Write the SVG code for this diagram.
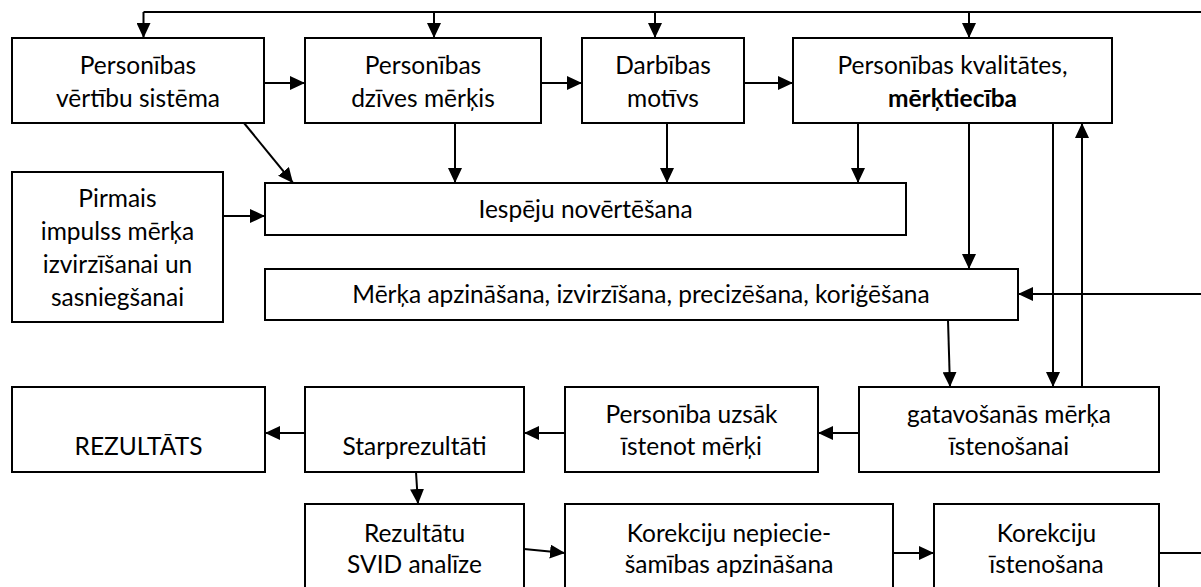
<svg xmlns="http://www.w3.org/2000/svg" width="1201" height="587" viewBox="0 0 1201 587">
<style>
.box{fill:#fff;stroke:#000;stroke-width:2}
text{font-family:Lato,"Open Sans",sans-serif;font-size:24.5px;fill:#000;text-anchor:middle}
.b{font-weight:bold}
.c{fill:none;stroke:#000;stroke-width:2}
</style>
<defs>
<marker id="ah" markerUnits="userSpaceOnUse" markerWidth="16" markerHeight="14" refX="15" refY="7" orient="auto">
<path d="M0,0 L15,7 L0,14 Z" fill="#000"/>
</marker>
</defs>
<g id="connectors">
<path class="c" d="M143.5,12 H1201"/>
<path class="c" d="M143.5,12 V38" marker-end="url(#ah)"/>
<path class="c" d="M434,12 V38" marker-end="url(#ah)"/>
<path class="c" d="M655,12 V38" marker-end="url(#ah)"/>
<path class="c" d="M969,12 V38" marker-end="url(#ah)"/>
<path class="c" d="M264,83 H305" marker-end="url(#ah)"/>
<path class="c" d="M541,83 H582" marker-end="url(#ah)"/>
<path class="c" d="M744,83 H793" marker-end="url(#ah)"/>
<path class="c" d="M244,123 L293,183" marker-end="url(#ah)"/>
<path class="c" d="M455,123 V183" marker-end="url(#ah)"/>
<path class="c" d="M667,123 V183" marker-end="url(#ah)"/>
<path class="c" d="M858,123 V183" marker-end="url(#ah)"/>
<path class="c" d="M223,216 H265" marker-end="url(#ah)"/>
<path class="c" d="M969,123 V269" marker-end="url(#ah)"/>
<path class="c" d="M1053,123 V387" marker-end="url(#ah)"/>
<path class="c" d="M1082,387 V123" marker-end="url(#ah)"/>
<path class="c" d="M1201,294 H1018" marker-end="url(#ah)"/>
<path class="c" d="M948,320 L950,387" marker-end="url(#ah)"/>
<path class="c" d="M859,433 H818" marker-end="url(#ah)"/>
<path class="c" d="M565,433 H524" marker-end="url(#ah)"/>
<path class="c" d="M305,433 H265" marker-end="url(#ah)"/>
<path class="c" d="M416,472 L418,504" marker-end="url(#ah)"/>
<path class="c" d="M524,549 L565,553" marker-end="url(#ah)"/>
<path class="c" d="M893,553 H934" marker-end="url(#ah)"/>
<path class="c" d="M1159,553 H1201"/>
</g>
<g id="n1"><rect class="box" x="12" y="38" width="252" height="85"/><text x="138" y="74">Personības</text><text x="138" y="107">vērtību sistēma</text></g>
<g id="n2"><rect class="box" x="305" y="38" width="236" height="85"/><text x="423" y="74">Personības</text><text x="423" y="107">dzīves mērķis</text></g>
<g id="n3"><rect class="box" x="582" y="38" width="162" height="85"/><text x="663" y="74">Darbības</text><text x="663" y="107">motīvs</text></g>
<g id="n4"><rect class="box" x="793" y="38" width="319" height="85"/><text x="952.5" y="74">Personības kvalitātes,</text><text class="b" x="952.5" y="107">mērķtiecība</text></g>
<g id="n5"><rect class="box" x="12" y="172" width="211" height="150"/><text x="117.5" y="207">Pirmais</text><text x="117.5" y="240">impulss mērķa</text><text x="117.5" y="273">izvirzīšanai un</text><text x="117.5" y="306">sasniegšanai</text></g>
<g id="n6"><rect class="box" x="265" y="183" width="641" height="52"/><text x="585.5" y="217.5">Iespēju novērtēšana</text></g>
<g id="n7"><rect class="box" x="265" y="269" width="753" height="51"/><text x="641" y="303">Mērķa apzināšana, izvirzīšana, precizēšana, koriģēšana</text></g>
<g id="n8"><rect class="box" x="12" y="387" width="253" height="85"/><text x="138.5" y="455">REZULTĀTS</text></g>
<g id="n9"><rect class="box" x="305" y="387" width="219" height="85"/><text x="414.5" y="455">Starprezultāti</text></g>
<g id="n10"><rect class="box" x="565" y="387" width="253" height="85"/><text x="691.5" y="423">Personība uzsāk</text><text x="691.5" y="455">īstenot mērķi</text></g>
<g id="n11"><rect class="box" x="859" y="387" width="300" height="85"/><text x="1009" y="423">gatavošanās mērķa</text><text x="1009" y="455">īstenošanai</text></g>
<g id="n12"><rect class="box" x="305" y="504" width="219" height="100"/><text x="414.5" y="542">Rezultātu</text><text x="414.5" y="573">SVID analīze</text></g>
<g id="n13"><rect class="box" x="565" y="504" width="328" height="100"/><text x="729" y="542">Korekciju nepiecie-</text><text x="729" y="573">šamības apzināšana</text></g>
<g id="n14"><rect class="box" x="934" y="504" width="225" height="100"/><text x="1046.5" y="542">Korekciju</text><text x="1046.5" y="573">īstenošana</text></g>
</svg>
